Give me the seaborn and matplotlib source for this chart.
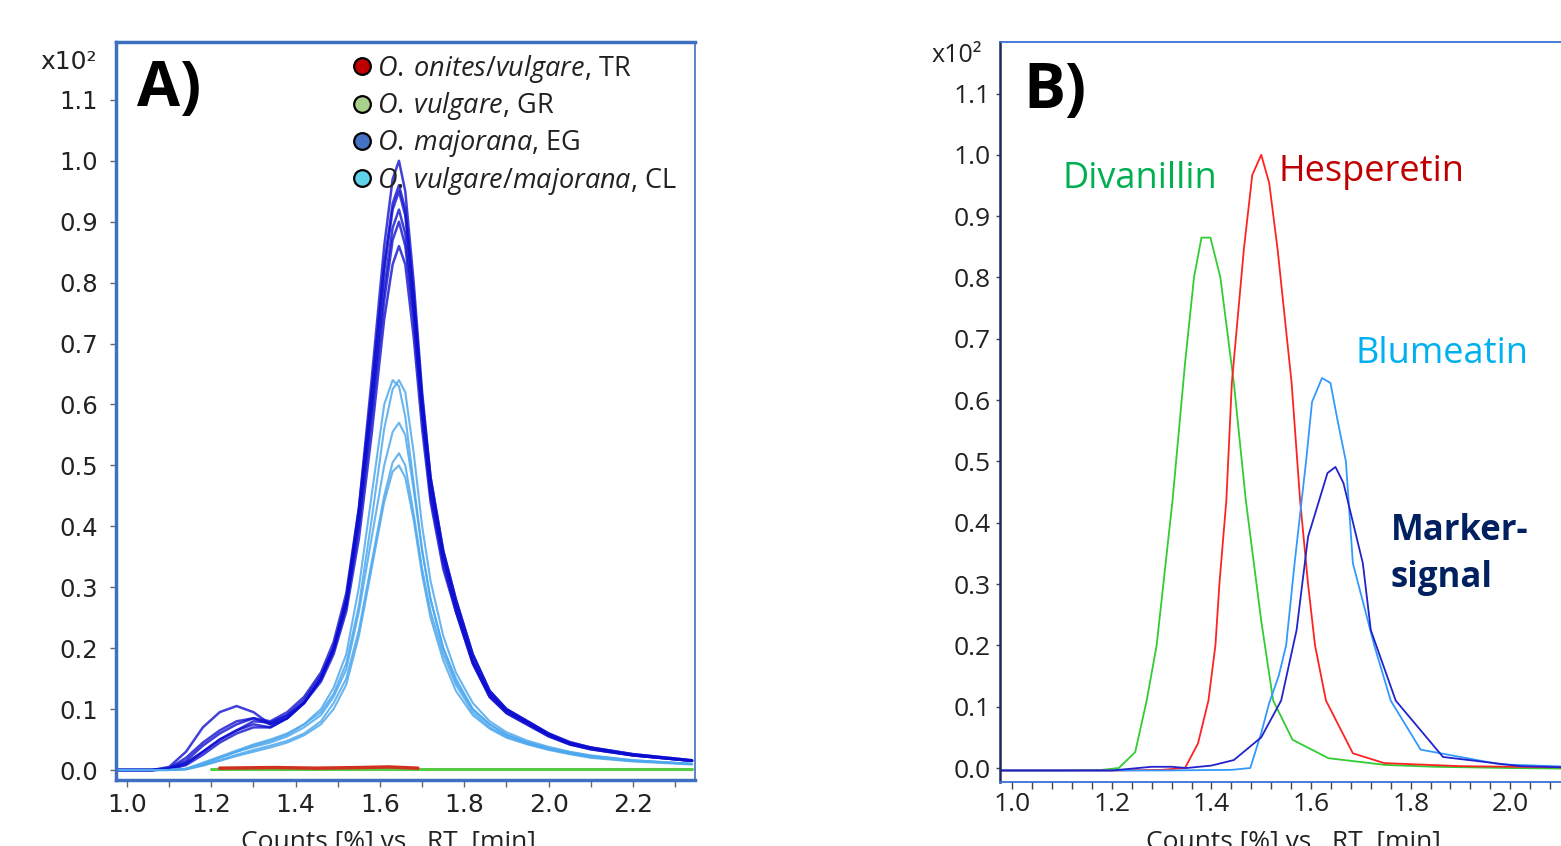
import numpy as np
import pandas as pd
import matplotlib
matplotlib.use("Agg")
import matplotlib.pyplot as plt
from matplotlib.lines import Line2D
from matplotlib.ticker import MultipleLocator
import seaborn as sns

# ---- panel A: retention time grid and traces
rt_a = [0.97, 1.06, 1.10, 1.14, 1.18, 1.22, 1.26, 1.30, 1.34, 1.38, 1.42, 1.46, 1.49, 1.52, 1.55,
        1.58, 1.61, 1.63, 1.645, 1.66, 1.68, 1.70, 1.72, 1.75, 1.78, 1.82, 1.86, 1.90, 1.95, 2.00,
        2.05, 2.10, 2.20, 2.34]

eg_1 = [0, 0, 0.005, 0.03, 0.07, 0.095, 0.105, 0.095, 0.075, 0.085, 0.11, 0.15, 0.20, 0.28, 0.43,
        0.64, 0.86, 0.97, 1.00, 0.95, 0.80, 0.62, 0.48, 0.36, 0.28, 0.19, 0.13, 0.10, 0.08, 0.06,
        0.046, 0.037, 0.026, 0.016]
eg_2 = [0, 0, 0.002, 0.015, 0.04, 0.06, 0.075, 0.085, 0.08, 0.095, 0.12, 0.16, 0.21, 0.29, 0.43,
        0.62, 0.83, 0.93, 0.96, 0.92, 0.78, 0.61, 0.48, 0.36, 0.28, 0.19, 0.13, 0.10, 0.08, 0.06,
        0.045, 0.037, 0.026, 0.016]
eg_3 = [0, 0, 0.003, 0.02, 0.045, 0.065, 0.08, 0.085, 0.075, 0.09, 0.115, 0.155, 0.20, 0.28, 0.42,
        0.61, 0.82, 0.92, 0.95, 0.91, 0.77, 0.60, 0.47, 0.35, 0.27, 0.18, 0.125, 0.098, 0.078, 0.058,
        0.044, 0.036, 0.025, 0.015]
eg_4 = [0, 0, 0.002, 0.012, 0.03, 0.05, 0.065, 0.075, 0.07, 0.085, 0.11, 0.15, 0.20, 0.27, 0.41,
        0.59, 0.79, 0.89, 0.92, 0.88, 0.75, 0.59, 0.46, 0.35, 0.27, 0.18, 0.125, 0.096, 0.077, 0.057,
        0.043, 0.035, 0.024, 0.015]
eg_5 = [0, 0, 0.001, 0.008, 0.025, 0.045, 0.06, 0.07, 0.07, 0.085, 0.11, 0.15, 0.195, 0.27, 0.40,
        0.58, 0.77, 0.87, 0.90, 0.86, 0.74, 0.58, 0.45, 0.34, 0.26, 0.175, 0.12, 0.094, 0.075, 0.056,
        0.042, 0.034, 0.024, 0.015]
eg_6 = [0, 0, 0.001, 0.01, 0.03, 0.05, 0.065, 0.08, 0.078, 0.09, 0.11, 0.145, 0.19, 0.26, 0.38,
        0.55, 0.74, 0.83, 0.86, 0.83, 0.71, 0.56, 0.44, 0.33, 0.26, 0.175, 0.12, 0.093, 0.074, 0.055,
        0.042, 0.034, 0.024, 0.015]

cl_1 = [0, 0, 0, 0.002, 0.01, 0.02, 0.03, 0.04, 0.048, 0.058, 0.075, 0.10, 0.135, 0.19, 0.30,
        0.45, 0.60, 0.64, 0.63, 0.58, 0.47, 0.36, 0.28, 0.20, 0.145, 0.10, 0.075, 0.058, 0.045, 0.036,
        0.029, 0.023, 0.016, 0.01]
cl_2 = [0, 0, 0, 0.002, 0.012, 0.022, 0.032, 0.042, 0.05, 0.06, 0.075, 0.095, 0.125, 0.175, 0.27,
        0.41, 0.56, 0.625, 0.64, 0.62, 0.52, 0.40, 0.31, 0.22, 0.16, 0.11, 0.08, 0.062, 0.048, 0.038,
        0.03, 0.024, 0.016, 0.01]
cl_3 = [0, 0, 0, 0.002, 0.01, 0.02, 0.03, 0.038, 0.045, 0.055, 0.07, 0.09, 0.12, 0.165, 0.26,
        0.38, 0.50, 0.555, 0.57, 0.55, 0.46, 0.36, 0.28, 0.20, 0.15, 0.10, 0.075, 0.058, 0.045, 0.035,
        0.028, 0.022, 0.015, 0.01]
cl_4 = [0, 0, 0, 0.001, 0.008, 0.016, 0.025, 0.033, 0.04, 0.048, 0.06, 0.08, 0.11, 0.15, 0.23,
        0.34, 0.45, 0.505, 0.52, 0.50, 0.42, 0.33, 0.26, 0.19, 0.14, 0.095, 0.07, 0.055, 0.043, 0.034,
        0.027, 0.021, 0.015, 0.01]
cl_5 = [0, 0, 0, 0.001, 0.007, 0.015, 0.023, 0.03, 0.037, 0.045, 0.057, 0.075, 0.10, 0.14, 0.22,
        0.33, 0.44, 0.49, 0.50, 0.48, 0.41, 0.32, 0.25, 0.18, 0.13, 0.09, 0.068, 0.053, 0.042, 0.033,
        0.026, 0.02, 0.014, 0.009]

tr_rt = [1.22, 1.35, 1.45, 1.55, 1.62, 1.69]
tr_y = [0.003, 0.004, 0.003, 0.004, 0.005, 0.003]
gr_rt = [1.20, 1.70, 2.34]
gr_y = [0.001, 0.001, 0.001]

legend_labels = [r"$\mathit{O.\:onites/vulgare}$, TR", r"$\mathit{O.\:vulgare}$, GR",
                 r"$\mathit{O.\:majorana}$, EG", r"$\mathit{O.\:vulgare/majorana}$, CL"]
legend_colors = ["#c00000", "#a9d18e", "#4472c4", "#5fd3ec"]

# ---- panel B: single compounds
div_rt = [0.975, 1.10, 1.18, 1.214, 1.247, 1.27, 1.29, 1.322, 1.347, 1.365, 1.38, 1.398, 1.418,
          1.445, 1.469, 1.50, 1.524, 1.563, 1.635, 1.75, 1.85, 2.0, 2.12]
div_y = [-0.004, -0.004, -0.003, 0.0, 0.026, 0.11, 0.2, 0.437, 0.66, 0.80, 0.865, 0.865, 0.80,
         0.628, 0.437, 0.24, 0.11, 0.046, 0.016, 0.005, 0.002, 0.0, -0.001]
hes_rt = [0.975, 1.20, 1.30, 1.347, 1.373, 1.394, 1.408, 1.416, 1.43, 1.441, 1.465, 1.482, 1.50,
          1.516, 1.533, 1.561, 1.578, 1.594, 1.608, 1.63, 1.684, 1.747, 1.9, 2.12]
hes_y = [-0.004, -0.004, -0.003, 0.0, 0.04, 0.11, 0.2, 0.3, 0.437, 0.628, 0.845, 0.967, 1.0,
         0.954, 0.845, 0.628, 0.437, 0.3, 0.2, 0.11, 0.024, 0.008, 0.003, 0.001]
blu_rt = [0.975, 1.30, 1.44, 1.478, 1.50, 1.516, 1.535, 1.55, 1.567, 1.59, 1.602, 1.622, 1.639,
          1.653, 1.67, 1.684, 1.727, 1.76, 1.82, 1.98, 2.12]
blu_y = [-0.004, -0.004, -0.003, 0.0, 0.057, 0.106, 0.15, 0.2, 0.334, 0.5, 0.597, 0.636, 0.628,
         0.568, 0.5, 0.334, 0.2, 0.11, 0.03, 0.006, 0.002]
mrk_rt = [0.975, 1.20, 1.28, 1.32, 1.35, 1.40, 1.445, 1.50, 1.54, 1.571, 1.594, 1.633, 1.649,
          1.665, 1.704, 1.72, 1.77, 1.865, 2.02, 2.12]
mrk_y = [-0.004, -0.004, 0.002, 0.002, 0.0, 0.004, 0.013, 0.05, 0.11, 0.225, 0.377, 0.481, 0.491,
         0.465, 0.334, 0.225, 0.11, 0.018, 0.003, 0.001]

y_ticks = [0.0, 0.1, 0.2, 0.3, 0.4, 0.5, 0.6, 0.7, 0.8, 0.9, 1.0, 1.1]
x_ticks = [1.0, 1.2, 1.4, 1.6, 1.8, 2.0, 2.2]

sns.set_theme(style="white")
plt.rcParams["font.family"] = ["Open Sans", "DejaVu Sans"]
plt.rcParams["mathtext.fontset"] = "custom"
plt.rcParams["mathtext.it"] = "Open Sans:italic"
plt.rcParams["mathtext.rm"] = "Open Sans"

W, H = 1561, 846
fig = plt.figure(figsize=(W / 100, H / 100), dpi=100)
fig.patch.set_facecolor("white")
axA = fig.add_axes([116 / W, 66 / H, 579 / W, 738 / H])
axB = fig.add_axes([1000 / W, 64 / H, 575 / W, 740 / H])

# ---- draw panel A
for tr in [eg_1, eg_2, eg_3, eg_4, eg_5, eg_6]:
    sns.lineplot(x=rt_a, y=tr, ax=axA, color="#0c0cd0", lw=1.8, alpha=0.78, estimator=None)
for tr in [cl_1, cl_2, cl_3, cl_4, cl_5]:
    sns.lineplot(x=rt_a, y=tr, ax=axA, color="#4ea8ee", lw=1.5, alpha=0.85, estimator=None)
sns.lineplot(x=gr_rt, y=gr_y, ax=axA, color="#55cc44", lw=2.2, estimator=None)
sns.lineplot(x=tr_rt, y=tr_y, ax=axA, color="#d03020", lw=2.5, estimator=None)

axA.set_xlim(0.974, 2.347)
axA.set_ylim(-0.0164, 1.195)
axA.set_xticks(x_ticks)
axA.set_yticks(y_ticks)
axA.xaxis.set_minor_locator(MultipleLocator(0.1))
axA.set_xticklabels([f"{v:.1f}" for v in x_ticks], family="DejaVu Sans", fontsize=18, color="#222222")
axA.set_yticklabels([f"{v:.1f}" for v in y_ticks], family="DejaVu Sans", fontsize=17.5, color="#222222")
axA.tick_params(axis="y", which="major", direction="out", length=4, width=1, color="#666666", pad=9, left=True)
axA.tick_params(axis="x", which="both", direction="out", length=5, width=1, color="#666666", pad=4, bottom=True)
for side, sp in axA.spines.items():
    sp.set_visible(True)
    sp.set_color("#3f6fc0")
    sp.set_linewidth(2.5 if side in ("left", "bottom", "top") else 1.2)

handles = [Line2D([], [], marker="o", ls="none", markersize=12, markerfacecolor=c,
                  markeredgecolor="black", markeredgewidth=1.6) for c in legend_colors]
leg = axA.legend(handles, legend_labels, loc="upper left", bbox_to_anchor=(0.4016, 0.9856),
                 frameon=False, fontsize=19.5, handletextpad=0.05, labelspacing=0.21,
                 borderaxespad=0.0, borderpad=0.0, handlelength=1.0)
for t in leg.get_texts():
    t.set_color("#222222")

axA.text(0.036, 0.978, "A)", transform=axA.transAxes, fontsize=45, fontweight="bold",
         ha="left", va="top", color="black")
fig.text(40 / W, 1 - 62 / H, "x10²", fontsize=18, family="DejaVu Sans", va="center", ha="left", color="#222222")
fig.text(388 / W, 1 - 842 / H, "Counts [%] vs.  RT  [min]", fontsize=19, ha="center", va="center", color="#222222")

# ---- draw panel B
sns.lineplot(x=div_rt, y=div_y, ax=axB, color="#33cc33", lw=1.3, estimator=None)
sns.lineplot(x=hes_rt, y=hes_y, ax=axB, color="#ff2222", lw=1.3, estimator=None)
sns.lineplot(x=blu_rt, y=blu_y, ax=axB, color="#3399ff", lw=1.3, estimator=None)
sns.lineplot(x=mrk_rt, y=mrk_y, ax=axB, color="#2323cc", lw=1.3, estimator=None)

axB.set_xlim(0.9755, 2.13)
axB.set_ylim(-0.0228, 1.184)
axB.set_xticks(x_ticks[:6])
axB.set_yticks(y_ticks)
axB.xaxis.set_minor_locator(MultipleLocator(0.04))
axB.set_xticklabels([f"{v:.1f}" for v in x_ticks[:6]], fontsize=19, color="#222222")
axB.set_yticklabels([f"{v:.1f}" for v in y_ticks], fontsize=19, color="#222222")
axB.tick_params(axis="y", which="major", direction="out", length=3, width=1, color="#444444", pad=4, left=True)
axB.tick_params(axis="x", which="both", direction="out", length=5, width=1, color="#444444", pad=2, bottom=True)
for side, sp in axB.spines.items():
    sp.set_color("#3a6fd0")
    sp.set_linewidth(1.3)
axB.spines["right"].set_visible(False)
axB.spines["left"].set_color("#1a2a60")
axB.spines["left"].set_linewidth(1.8)

axB.text(0.04, 0.975, "B)", transform=axB.transAxes, fontsize=45, fontweight="bold",
         ha="left", va="top", color="black")
axB.text(1.257, 0.96, "Divanillin", fontsize=26, color="#00b050", ha="center", va="center")
axB.text(1.535, 0.972, "Hesperetin", fontsize=26, color="#c00000", ha="left", va="center")
axB.text(1.69, 0.675, "Blumeatin", fontsize=26, color="#00b0f0", ha="left", va="center")
axB.text(1.76, 0.348, "Marker-\nsignal", fontsize=25, fontweight="bold", color="#002060",
         ha="left", va="center", linespacing=1.4)
fig.text(932 / W, 1 - 55 / H, "x10²", fontsize=18, va="center", ha="left", color="#222222")
fig.text(1293 / W, 1 - 842 / H, "Counts [%] vs.  RT  [min]", fontsize=19, ha="center", va="center", color="#222222")

fig.savefig("out.png", dpi=100)
